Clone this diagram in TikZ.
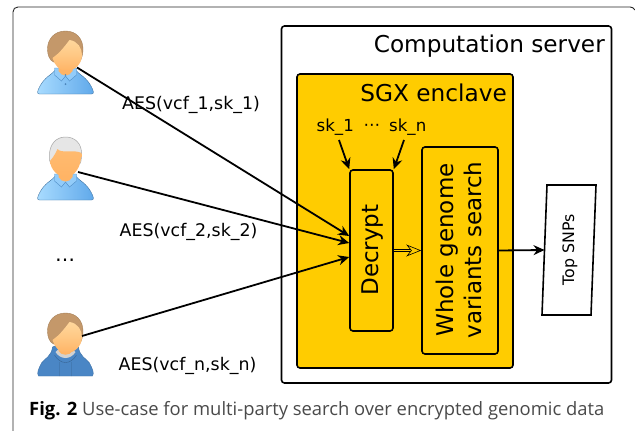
\documentclass[tikz,border=0pt]{standalone}
\usepackage{fontspec}
\setmainfont{DejaVu Sans}
\newfontfamily\capfont{Open Sans}
\usetikzlibrary{arrows.meta,calc}
\definecolor{enclave}{HTML}{FFCC00}
\definecolor{hairb}{HTML}{C4986A}
\definecolor{hairg}{HTML}{E6E6E6}
\definecolor{skinl}{HTML}{FFD79C}
\definecolor{skind}{HTML}{FFB465}
\definecolor{shirtl}{HTML}{A9DCFF}
\definecolor{shirtd}{HTML}{5FA8EA}
\definecolor{hoodl}{HTML}{5C9AD6}
\definecolor{hoodd}{HTML}{4A86C5}
\definecolor{capgray}{HTML}{4A4A4A}
\tikzset{
  box/.style={draw=black,line width=1.6pt,rounded corners=3pt,inner sep=0pt},
  flow/.style={line width=1.8pt,-{Stealth[length=11pt,width=10pt]}},
  lab/.style={font=\fontsize{16.6}{20}\selectfont,inner sep=0pt,text=black},
  aes/.style={font=\fontsize{17.4}{20}\selectfont,inner sep=0pt,text=black,anchor=west},
  bigrot/.style={font=\fontsize{23}{28}\selectfont,rotate=90,align=center,inner sep=0pt},
  pics/bodyplain/.style={code={
    \path[draw=#1!70!black,line width=.4pt,left color=shirtl,right color=shirtd]
      (-26,63) .. controls (-29,63) and (-28,60) .. (-26,56)
      .. controls (-21,46) and (-14,44) .. (-9,38) -- (9,38)
      .. controls (14,44) and (21,46) .. (26,56)
      .. controls (28,60) and (29,63) .. (26,63) -- cycle;
    \path[fill=shirtl!70!shirtd,draw=shirtd!85!black,line width=.4pt]
      (-11,37) -- (-11,44) -- (-4,50) -- (0,45) -- (4,50) -- (11,44) -- (11,37) -- cycle;
    \path[fill=skind]
      (-7,30) -- (-7,40) .. controls (-4,46) and (4,46) .. (7,40) -- (7,30) -- cycle;
  }},
  pics/brownhead/.style={code={
    \path[fill=hairb,draw=hairb!85!black,line width=.4pt]
      (0,0) .. controls (-11,0) and (-18,8) .. (-18,18)
      .. controls (-18,24) and (-16,29) .. (-12,31) -- (14,31)
      .. controls (16,28) and (17.5,24) .. (17.5,18) .. controls (17.5,8) and (11,0) .. (0,0) -- cycle;
    \path[top color=skinl,bottom color=skind,middle color=skinl!55!skind]
      (4,9) .. controls (12,10) and (16.5,17) .. (16.5,24)
      .. controls (16.5,33) and (9,40) .. (1,40)
      .. controls (-6,40) and (-11,34) .. (-13,27)
      .. controls (-7,23) and (-2,17) .. (4,9) -- cycle;
  }},
  pics/grayhead/.style={code={
    \path[fill=hairg,draw=black!35,line width=.5pt]
      (0,0) .. controls (-10,0) and (-16,8) .. (-16,18)
      .. controls (-16,23) and (-16,25) .. (-15,26) -- (15,26)
      .. controls (16,22) and (16,20) .. (16,16) .. controls (16,7) and (10,0) .. (0,0) -- cycle;
    \path[top color=skind!80!skinl,bottom color=skind]
      (-15.5,24) .. controls (-11,19) and (-9,14) .. (-8,12)
      .. controls (-4,17) and (8,12) .. (16,16)
      .. controls (16,30) and (9,40) .. (0,40)
      .. controls (-8,40) and (-15,32) .. (-15.5,24) -- cycle;
  }},
  pics/hoodbody/.style={code={
    \path[fill=hoodd,draw=hoodd!85!black,line width=.4pt]
      (-27,63) .. controls (-29,60) and (-27,56) .. (-24,50)
      .. controls (-20,45) and (-14,43) .. (-13,34) -- (-8,32) -- (8,32) -- (13,34)
      .. controls (14,43) and (20,45) .. (24,50)
      .. controls (27,56) and (29,60) .. (27,63) -- cycle;
    \draw[hoodd!75!black,line width=.4pt] (-6,49) -- (-6,63) (6,49) -- (6,63)
      (-11,42) .. controls (-5,52) and (5,52) .. (11,42);
    \path[fill=black!18] (-10,39) .. controls (-5,47) and (5,47) .. (10,39) -- (7,36) -- (-7,36) -- cycle;
    \path[fill=skind]
      (-7,30) -- (-7,38) .. controls (-4,43) and (4,43) .. (7,38) -- (7,30) -- cycle;
  }},
}
\begin{document}
\begin{tikzpicture}[x=1pt,y=-1pt]
\useasboundingbox (0,0) rectangle (635,431);
\fill[white] (0,0) rectangle (635,431);
% page frame
\draw[line width=.9pt,draw=black!85] (13,431) -- (13,12) .. controls (13,9) and (15,7) .. (18,7) -- (630,7) .. controls (632,7) and (634,8) .. (635,10);
% server and enclave
\node[box,fill=white,minimum width=330pt,minimum height=357pt] (server) at (446.5,204.5) {};
\node[box,fill=enclave,minimum width=216pt,minimum height=294pt] (enclave) at (405,221) {};
\node[box,fill=enclave,minimum width=43pt,minimum height=161pt] (decrypt) at (371.5,250.5) {};
\node[box,fill=enclave,minimum width=76pt,minimum height=207pt] (whole) at (460,250.5) {};
\node[bigrot] (dectext) at (372.5,250) {Decrypt};
\node[bigrot] (wholetext) at (459,250) {Whole genome\\variants search};
% top snps
\draw[line width=1.6pt,fill=white] (547,185) -- (596,185) -- (591,315) -- (542,315) -- cycle;
\node[lab,rotate=90,font=\fontsize{15.8}{19}\selectfont] (snptext) at (570,250) {Top SNPs};
\coordinate (snpin) at (544.5,250);
% titles
\node[anchor=east,inner sep=0pt,font=\fontsize{23.2}{28}\selectfont] (servertitle) at (605,46) {Computation server};
\node[anchor=east,inner sep=0pt,font=\fontsize{23.2}{28}\selectfont] (enclavetitle) at (507,93) {SGX enclave};
\node[lab,anchor=west] (sk1) at (316.5,127.5) {sk\_1};
\node[lab] (skdots) at (372,127) {⋯};
\node[lab,anchor=east] (skn) at (426.5,127.5) {sk\_n};
% users
\pic at (65.5,31) {bodyplain=shirtd};
\pic at (65.5,31) {brownhead};
\fill[shirtd!80!black] (65.5,75) circle (.8) (65.5,84) circle (1);
\pic at (65.5,137) {bodyplain=shirtd};
\pic at (65.5,137) {grayhead};
\pic at (65.5,313) {hoodbody};
\pic at (65.5,313) {brownhead};
\coordinate (u1) at (77,67.5);
\coordinate (u2) at (78,172);
\coordinate (un) at (82,336);
% labels
\node[aes] (l1) at (122,105) {AES(vcf\_1,sk\_1)};
\node[aes] (l2) at (119.5,231.5) {AES(vcf\_2,sk\_2)};
\node[aes] (ln) at (118.5,366) {AES(vcf\_n,sk\_n)};
\node[lab,font=\fontsize{20}{22}\selectfont] (dots) at (65,260) {…};
% connectors
\coordinate (sa) at (339,140);
\coordinate (sb) at (404,140);
\draw[flow] (u1) -- ([yshift=14.5pt]decrypt.west);
\draw[flow] (u2) -- ([yshift=7.5pt]decrypt.west);
\draw[flow] (un) -- ([yshift=-6.5pt]decrypt.west);
\draw[flow] (sa) -- (decrypt.north west);
\draw[flow] (sb) -- (decrypt.north east);
\draw[line width=.6pt,double=enclave,double distance=1.6pt,-{Stealth[open,length=15pt,width=12pt,fill=enclave]}] (decrypt.east) -- (whole.west);
\draw[flow] (whole.east) -- (snpin);
% caption
\node[anchor=west,inner sep=0pt,text=capgray,font=\capfont\fontsize{18.4}{22}\selectfont] (caption) at (29,410.5) {\textcolor{black}{\textbf{Fig. 2}} Use-case for multi-party search over encrypted genomic data};
\end{tikzpicture}
\end{document}
